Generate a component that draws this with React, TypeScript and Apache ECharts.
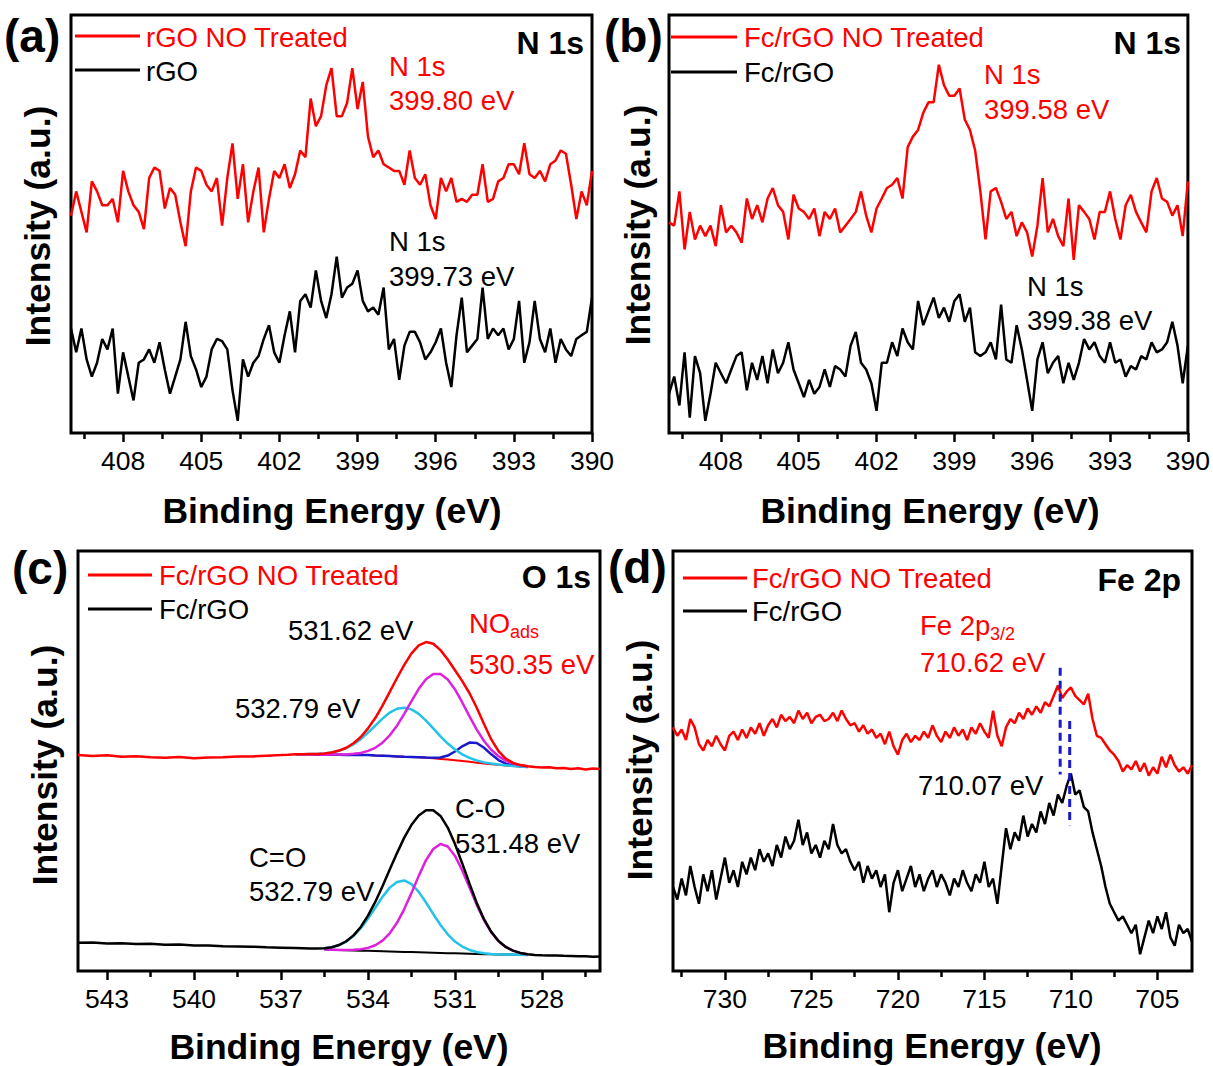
import React, { useEffect, useRef } from 'react';
import * as echarts from 'echarts';

const FONT = '"Liberation Sans", Arial, Helvetica, sans-serif';
const RED = '#ff0000';
const BLACK = '#000000';
const CYAN = '#22c3e6';
const MAGENTA = '#dd22dd';
const BLUE = '#1a1acc';
const ANN = 27.5; // annotation / legend font size
const TICK = 26.5;
const AXT = 35.5;

// ---------- axis ranges & ticks ----------
const rangeN1s = [390, 410];
const majorN1s = [390, 393, 396, 399, 402, 405, 408];
const minorN1s = [391.5, 394.5, 397.5, 400.5, 403.5, 406.5, 409.5];
const rangeO1s = [526, 544];
const majorO1s = [528, 531, 534, 537, 540, 543];
const minorO1s = [526.5, 529.5, 532.5, 535.5, 538.5, 541.5];
const rangeFe = [703, 733];
const majorFe = [705, 710, 715, 720, 725, 730];
const minorFe = [707.5, 712.5, 717.5, 722.5, 727.5, 732.5];

// ---------- (a) N 1s, energies 410 -> 390 every 0.2 eV ----------
const N1S_START = 410;
const N1S_STEP = 0.2;
const rgoNO_a = [52, 57.8, 52.9, 48, 60.2, 57.8, 54.5, 54.5, 56, 50.4,
  62.7, 57.8, 54.5, 52.9, 48.8, 61, 63.5, 62.7, 53.7, 58.6,
  57, 50.4, 44.7, 57.8, 63.5, 62.7, 59.4, 57.8, 61, 49.6,
  61, 69.3, 56, 64.3, 50.4, 57.8, 63.5, 48, 56, 62.7,
  61, 64.3, 58.6, 61.9, 67.6, 66, 80, 73.4, 75.8, 83.2,
  87.3, 75.8, 75.8, 79, 87.3, 77.5, 84, 70.9, 66, 67.6,
  64.3, 63.5, 62.7, 62.7, 59.4, 67.6, 61, 59.4, 61.9, 54.5,
  51.2, 61, 57.8, 61, 55.3, 56, 55.3, 57, 57, 64.3,
  55.3, 56, 60.2, 61, 64.3, 64.3, 61.9, 69.3, 61.9, 61,
  62.7, 60.2, 64.3, 65.2, 67.6, 66.8, 59.4, 51.2, 57.8, 54.5, 62.7];
const rgo_a = [25, 19.3, 25, 17.6, 13.5, 16.8, 22.5, 20, 25, 9.4,
  19.3, 13.5, 7.8, 16.8, 17.6, 20, 16.8, 21.7, 15.2, 9.4,
  13.5, 17.6, 26.6, 18.4, 15.2, 11, 13.5, 20, 22.5, 22,
  20, 10.2, 2.9, 17.6, 13.5, 16.8, 18.4, 22.5, 25.8, 19.3,
  16.8, 23.4, 29.1, 19.3, 31.6, 33.2, 30, 38.9, 31.6, 27.5,
  33.2, 42.2, 32.4, 34.8, 35.7, 38.9, 31.6, 29.1, 30, 28.3,
  34.8, 20, 22.5, 12.7, 20.9, 24.2, 24.2, 21.7, 17.6, 19.3,
  21.7, 25, 16.8, 11, 23.4, 32.4, 19.3, 20.9, 22.5, 34.8,
  22.5, 25, 23.4, 25, 20, 22.5, 31.6, 16.8, 21.7, 31.6,
  22.5, 19.3, 25, 16.8, 22.5, 20, 18.4, 22.5, 23.4, 24.2, 32.4];

// ---------- (b) N 1s ----------
const fcNO_b = [50.4, 49.6, 57.8, 43.9, 52.9, 46.3, 49.6, 47.1, 49.6, 44.7,
  54.5, 48, 49.6, 48, 45.5, 56.1, 51.2, 54.5, 50.4, 56.1,
  58.6, 54.5, 52.9, 46.3, 57, 53.7, 52.9, 51.2, 53.7, 47.1,
  52.9, 51.2, 53.7, 48, 49.6, 51.2, 52.9, 57.8, 52, 48,
  53.7, 56.1, 58.6, 59.4, 61, 56.1, 68.4, 70.9, 72.5, 76.6,
  79.1, 79.1, 88.1, 83.2, 80.7, 80.7, 82.4, 75, 72.5, 67.6,
  57.8, 46.3, 57.8, 58.6, 55.3, 51.2, 52.9, 47.1, 50.4, 48,
  42.2, 49.6, 61, 48, 51.2, 47.1, 44.7, 56.1, 41.4, 54.5,
  52.9, 51.2, 46.3, 52.9, 52.9, 57.8, 51.2, 46.3, 54.5, 57,
  52.9, 50.4, 48, 57.8, 61, 56.1, 55.3, 52, 54.5, 47.1, 60.2];
const fc_b = [9.4, 13.5, 6.6, 19.3, 3.7, 18.4, 14.3, 2.9, 9.4, 16.8,
  14.3, 11.9, 15.2, 18.4, 19.3, 10.2, 16.8, 12.7, 18.4, 11.9,
  20, 14.3, 16.8, 21.7, 15.2, 11.9, 8.6, 12.7, 9.4, 11,
  15.2, 11, 16, 15.2, 13.5, 20.9, 24.2, 16.8, 15.2, 11.9,
  5.3, 16.8, 16.8, 21.7, 18.4, 25, 21.7, 20, 31.6, 25.8,
  29.1, 32.4, 27.5, 30, 26.6, 31.6, 33.2, 26.6, 30, 19.3,
  18.4, 19.3, 21.7, 17.6, 30.7, 17.6, 16.8, 25.8, 20, 12.7,
  5.3, 17.6, 21.7, 14.3, 16.8, 18.4, 11.9, 16.8, 12.7, 16.8,
  22.5, 20, 21.7, 18.4, 16.8, 21.7, 16.8, 17.6, 13.5, 16,
  15.2, 18.4, 17.6, 21.7, 19.3, 20, 21.7, 26.6, 20.9, 11.9, 20.9];

// ---------- (c) O 1s ----------
const O1S_STEP = 0.25;
const O1S_RED_START = 536.5; // 536.5 -> 528.5
const redBgC = [51.6, 51.6, 51.6, 51.55, 51.5, 51.5, 51.5, 51.45, 51.45, 51.4, 51.4, 51.3, 51.25, 51.2, 51.1, 51.0, 50.95, 50.9, 50.8, 50.65, 50.5, 50.35, 50.2, 50.0, 49.8, 49.6, 49.4, 49.25, 49.1, 48.95, 48.8, 48.7, 48.6];
const redMagC = [51.6, 51.6, 51.6, 51.55, 51.51, 51.52, 51.55, 51.57, 51.7, 51.92, 52.41, 53.13, 54.35, 56.12, 58.42, 61.2, 64.27, 67.19, 69.48, 70.71, 70.7, 69.4, 67.03, 63.94, 60.61, 57.46, 54.76, 52.67, 51.14, 50.1, 49.4, 49.0, 48.74];
const redCyanC = [51.61, 51.63, 51.66, 51.68, 51.77, 52.01, 52.43, 53.03, 53.98, 55.2, 56.76, 58.4, 60.08, 61.53, 62.44, 62.7, 62.29, 61.23, 59.63, 57.75, 55.86, 54.15, 52.73, 51.58, 50.73, 50.11, 49.67, 49.38, 49.16, 48.98, 48.81, 48.7, 48.6];
const redBlueC = [51.6, 51.6, 51.6, 51.55, 51.5, 51.5, 51.5, 51.45, 51.45, 51.4, 51.4, 51.3, 51.25, 51.2, 51.1, 51.0, 50.95, 50.9, 50.82, 50.75, 50.84, 51.3, 52.26, 53.49, 54.39, 54.3, 53.16, 51.59, 50.23, 49.38, 48.93, 48.73, 48.6];
const redEnvC = [51.61, 51.63, 51.66, 51.68, 51.78, 52.03, 52.48, 53.15, 54.23, 55.72, 57.77, 60.23, 63.18, 66.45, 69.76, 72.9, 75.61, 77.52, 78.33, 77.91, 76.4, 74.15, 71.62, 69.01, 66.13, 62.67, 58.79, 55.14, 52.33, 50.56, 49.54, 49.03, 48.74];
const redLeftC = [[544, 51.4], [543.5, 51.2], [543, 51.35], [542.5, 51.0], [542, 51.15], [541.5, 50.9], [541, 50.8], [540.5, 50.95], [540, 50.65], [539.5, 50.85], [539, 50.9], [538.5, 51.05], [538, 51.1], [537.5, 51.25], [537, 51.4], [536.75, 51.5]];
const redRightC = [[528.25, 48.55], [528, 48.45], [527.75, 48.5], [527.5, 48.25], [527.25, 48.35], [527, 48.1], [526.75, 48.25], [526.5, 48.0], [526.25, 48.2], [526, 48.1]];

const O1S_BLACK_START = 535.5; // 535.5 -> 528.5
const blackBgC = [5.1, 5.05, 5.0, 4.95, 4.9, 4.85, 4.8, 4.75, 4.7, 4.65, 4.6, 4.55, 4.5, 4.45, 4.4, 4.35, 4.3, 4.25, 4.2, 4.15, 4.1, 4.05, 4.0, 3.97, 3.95, 3.92, 3.9, 3.85, 3.8];
const blackMagC = [5.1, 5.06, 5.02, 5.01, 5.05, 5.19, 5.51, 6.14, 7.24, 8.97, 11.47, 14.75, 18.6, 22.65, 26.4, 29.05, 30.26, 29.65, 27.4, 23.95, 19.9, 15.75, 12.11, 9.21, 7.11, 5.7, 4.84, 4.31, 4.01];
const blackCyanC = [5.4, 5.66, 6.16, 7.02, 8.33, 10.15, 12.46, 15.05, 17.65, 19.85, 21.2, 21.55, 20.7, 18.85, 16.3, 13.58, 10.96, 8.74, 7.02, 5.81, 5.01, 4.51, 4.22, 4.07, 3.99, 3.94, 3.91, 3.85, 3.8];
const blackEnvC = [5.4, 5.67, 6.18, 7.08, 8.48, 10.49, 13.17, 16.44, 20.19, 24.17, 28.07, 31.75, 34.8, 37.05, 38.3, 38.28, 36.92, 34.14, 30.22, 25.61, 20.81, 16.21, 12.33, 9.31, 7.15, 5.72, 4.85, 4.31, 4.01];
const blackLeftC = [[544, 6.7], [543.5, 6.8], [543, 6.55], [542.5, 6.6], [542, 6.4], [541.5, 6.5], [541, 6.25], [540.5, 6.3], [540, 6.1], [539.5, 6.05], [539, 5.9], [538.5, 5.85], [538, 5.8], [537.5, 5.65], [537, 5.55], [536.5, 5.45], [536, 5.35], [535.75, 5.35]];
const blackRightC = [[528.25, 3.8], [528, 3.75], [527.75, 3.72], [527.5, 3.68], [527.25, 3.62], [527, 3.6], [526.75, 3.52], [526.5, 3.5], [526.25, 3.42], [526, 3.45]];

// ---------- (d) Fe 2p, energies 733 -> 703 every 0.25 eV ----------
const FE_START = 733;
const FE_STEP = 0.25;
const fcNO_d = [58, 56, 57.5, 55, 60, 58, 54, 52.5, 55, 53.5,
  56, 54, 52.5, 56, 57, 55, 57.5, 55.5, 58, 56.5,
  59, 56, 58.5, 60, 58, 61, 59.5, 60.5, 59, 62,
  60, 61.5, 59, 60.5, 61, 59.5, 60, 61.5, 59.5, 62,
  60, 58.5, 59, 57, 58.5, 56.5, 57.5, 55.5, 56.5, 54,
  57, 53.5, 51.5, 55, 56.5, 54.5, 56, 55, 57, 55.5,
  58.5, 56, 54.5, 57, 55.5, 58, 56, 57.5, 55, 58,
  56.5, 59, 57, 55.5, 62, 56, 53.5, 58, 60, 59,
  61.5, 60, 62.5, 61, 63, 61.5, 64, 63, 65.5, 68,
  65, 66.5, 67.5, 65.5, 64.5, 63.5, 66, 60, 56, 55.5,
  54, 52.5, 51.5, 50, 47.5, 49, 48, 50, 47.5, 49.5,
  46.5, 48.5, 47, 51, 48.5, 51.5, 49, 47.5, 48.5, 47, 49];
const fc_d = [20, 17, 22, 18, 25, 20, 16, 23, 19, 24,
  17, 22, 27, 21, 24, 20, 26, 23, 27, 24,
  29, 26, 28, 25, 30, 27, 32, 29, 31, 36,
  30, 33, 28, 30, 27, 31, 29, 35, 30, 28,
  29, 26, 24, 26, 21, 25, 22, 24, 20, 23,
  14, 21, 24, 19, 22, 25, 20, 23, 19, 22,
  24, 20, 23, 21, 18, 22, 20, 24, 21, 19,
  23, 21, 26, 20, 22, 16, 25, 34, 29, 33,
  31, 37, 32, 35, 33, 38, 35, 40, 37, 42,
  40, 44, 47, 42, 43, 39, 38, 33, 29, 25,
  20, 16, 14, 12, 13, 11, 9, 11, 4, 8,
  12, 9, 13, 10, 14, 8, 6, 11, 9, 10, 7];
// dashed markers: [energy, top, bottom]
const feMarkers = [[710.62, 72.2, 46.8], [710.07, 59.5, 34.7]];

function toPairs(start: number, step: number, ys: number[]) {
  return ys.map((y, i) => [Number((start - step * i).toFixed(3)), y]);
}

const grids = [
  { left: 71, top: 15, width: 521, height: 418 },
  { left: 669, top: 15, width: 521, height: 418 },
  { left: 78, top: 551, width: 522, height: 420 },
  { left: 673, top: 551, width: 519, height: 420 },
];

function makeX(g: number, range: number[], major: number[], minor: number[]) {
  const base = {
    gridIndex: g, type: 'value', position: 'bottom', inverse: true,
    min: range[0], max: range[1],
    axisLine: { show: false }, splitLine: { show: false },
  };
  return [
    {
      ...base,
      axisTick: { show: true, inside: false, length: 9, customValues: major, lineStyle: { color: BLACK, width: 2.5 } },
      axisLabel: { show: true, customValues: major, fontSize: TICK, fontFamily: FONT, color: BLACK, margin: 14 },
    },
    {
      ...base,
      axisTick: { show: true, inside: false, length: 6, customValues: minor, lineStyle: { color: BLACK, width: 2.5 } },
      axisLabel: { show: false },
    },
  ];
}

function line(g: number, data: any[], color: string, width = 2.5, z = 2, type: any = 'solid') {
  return {
    type: 'line', xAxisIndex: 2 * g, yAxisIndex: g, data, symbol: 'none', showSymbol: false,
    lineStyle: { color, width, type }, itemStyle: { color }, z, silent: true, animation: false,
  };
}

function txt(x: number, y: number, text: string, size: number, color = BLACK, bold = false, align = 'left', rotation = 0) {
  return {
    type: 'text', x, y, rotation, silent: true, z: 100,
    style: {
      text, fill: color, font: `${bold ? 'bold ' : ''}${size}px ${FONT}`,
      textAlign: align, textVerticalAlign: 'middle', align, verticalAlign: 'middle',
    },
  };
}

function seg(x1: number, y: number, x2: number, color: string) {
  return { type: 'line', silent: true, z: 100, shape: { x1, y1: y, x2, y2: y }, style: { stroke: color, lineWidth: 3 } };
}

export default function App() {
  const ref = useRef<HTMLDivElement>(null);
  useEffect(() => {
    document.body.style.margin = '0';
    if (!ref.current) return;
    const chart = echarts.init(ref.current, undefined, { renderer: 'svg' });

    const redC = [...redLeftC, ...toPairs(O1S_RED_START, O1S_STEP, redEnvC), ...redRightC];
    const blackC = [...blackLeftC, ...toPairs(O1S_BLACK_START, O1S_STEP, blackEnvC), ...blackRightC];

    const series: any[] = [
      line(0, toPairs(N1S_START, N1S_STEP, rgoNO_a), RED),
      line(0, toPairs(N1S_START, N1S_STEP, rgo_a), BLACK),
      line(1, toPairs(N1S_START, N1S_STEP, fcNO_b), RED),
      line(1, toPairs(N1S_START, N1S_STEP, fc_b), BLACK),
      // (c)
      line(2, toPairs(O1S_RED_START, O1S_STEP, redBgC), RED, 2, 1),
      line(2, toPairs(O1S_RED_START, O1S_STEP, redBlueC), BLUE, 2.5, 2),
      line(2, toPairs(O1S_RED_START, O1S_STEP, redCyanC), CYAN, 2.5, 3),
      line(2, toPairs(O1S_RED_START, O1S_STEP, redMagC), MAGENTA, 2.5, 3),
      line(2, redC, RED, 2.5, 4),
      line(2, toPairs(O1S_BLACK_START, O1S_STEP, blackBgC), BLACK, 2, 1),
      line(2, toPairs(O1S_BLACK_START, O1S_STEP, blackCyanC), CYAN, 2.5, 3),
      line(2, toPairs(O1S_BLACK_START, O1S_STEP, blackMagC), MAGENTA, 2.5, 3),
      line(2, blackC, BLACK, 2.5, 4),
      // (d)
      line(3, toPairs(FE_START, FE_STEP, fcNO_d), RED),
      line(3, toPairs(FE_START, FE_STEP, fc_d), BLACK),
      ...feMarkers.map((m) => line(3, [[m[0], m[1]], [m[0], m[2]]], BLUE, 3, 5, [8, 5])),
    ];

    const graphic: any[] = [
      // panel labels
      txt(4, 36, '(a)', 46, BLACK, true),
      txt(604, 36, '(b)', 46, BLACK, true),
      txt(12, 568, '(c)', 46, BLACK, true),
      txt(608, 567, '(d)', 46, BLACK, true),
      // panel titles
      txt(584, 43, 'N 1s', 32, BLACK, true, 'right'),
      txt(1181, 43, 'N 1s', 32, BLACK, true, 'right'),
      txt(591, 577, 'O 1s', 32, BLACK, true, 'right'),
      txt(1181, 580, 'Fe 2p', 32, BLACK, true, 'right'),
      // legends
      seg(75, 36, 140, RED), txt(146, 37, 'rGO NO Treated', ANN, RED),
      seg(75, 70, 140, BLACK), txt(146, 71, 'rGO', ANN, BLACK),
      seg(671, 37, 737, RED), txt(744, 37, 'Fc/rGO NO Treated', ANN, RED),
      seg(671, 72, 737, BLACK), txt(744, 72, 'Fc/rGO', ANN, BLACK),
      seg(88, 575, 152, RED), txt(159, 575, 'Fc/rGO NO Treated', ANN, RED),
      seg(88, 609, 152, BLACK), txt(159, 609, 'Fc/rGO', ANN, BLACK),
      seg(683, 578, 747, RED), txt(752, 578, 'Fc/rGO NO Treated', ANN, RED),
      seg(683, 611, 747, BLACK), txt(752, 611, 'Fc/rGO', ANN, BLACK),
      // annotations (a)
      txt(389, 66, 'N 1s', ANN, RED), txt(389, 100, '399.80 eV', ANN, RED),
      txt(389, 241, 'N 1s', ANN, BLACK), txt(389, 276, '399.73 eV', ANN, BLACK),
      // annotations (b)
      txt(984, 74, 'N 1s', ANN, RED), txt(984, 109, '399.58 eV', ANN, RED),
      txt(1027, 286, 'N 1s', ANN, BLACK), txt(1027, 320, '399.38 eV', ANN, BLACK),
      // annotations (c)
      txt(288, 630, '531.62 eV', ANN, BLACK),
      txt(235, 708, '532.79 eV', ANN, BLACK),
      txt(469, 623, 'NO', ANN, RED), txt(510, 632, 'ads', 18, RED),
      txt(469, 664, '530.35 eV', ANN, RED),
      txt(455, 808, 'C-O', ANN, BLACK), txt(455, 843, '531.48 eV', ANN, BLACK),
      txt(249, 857, 'C=O', ANN, BLACK), txt(249, 891, '532.79 eV', ANN, BLACK),
      // annotations (d)
      txt(920, 625, 'Fe 2p', ANN, RED), txt(990, 634, '3/2', 18, RED),
      txt(920, 662, '710.62 eV', ANN, RED),
      txt(918, 785, '710.07 eV', ANN, BLACK),
      // axis titles
      txt(38, 226, 'Intensity (a.u.)', AXT, BLACK, true, 'center', Math.PI / 2),
      txt(638, 225, 'Intensity (a.u.)', AXT, BLACK, true, 'center', Math.PI / 2),
      txt(45, 765, 'Intensity (a.u.)', AXT, BLACK, true, 'center', Math.PI / 2),
      txt(640, 760, 'Intensity (a.u.)', AXT, BLACK, true, 'center', Math.PI / 2),
      txt(332, 511, 'Binding Energy (eV)', AXT, BLACK, true, 'center'),
      txt(930, 511, 'Binding Energy (eV)', AXT, BLACK, true, 'center'),
      txt(339, 1047, 'Binding Energy (eV)', AXT, BLACK, true, 'center'),
      txt(932, 1046, 'Binding Energy (eV)', AXT, BLACK, true, 'center'),
    ];

    chart.setOption({
      animation: false,
      backgroundColor: '#ffffff',
      textStyle: { fontFamily: FONT },
      grid: grids.map((g) => ({ ...g, show: true, borderColor: BLACK, borderWidth: 3, backgroundColor: 'rgba(0,0,0,0)', containLabel: false })),
      xAxis: [
        ...makeX(0, rangeN1s, majorN1s, minorN1s),
        ...makeX(1, rangeN1s, majorN1s, minorN1s),
        ...makeX(2, rangeO1s, majorO1s, minorO1s),
        ...makeX(3, rangeFe, majorFe, minorFe),
      ],
      yAxis: grids.map((_, g) => ({ gridIndex: g, type: 'value', min: 0, max: 100, show: false })),
      series,
      graphic,
    });
    return () => chart.dispose();
  }, []);
  return <div ref={ref} style={{ width: 1213, height: 1066 }} />;
}
